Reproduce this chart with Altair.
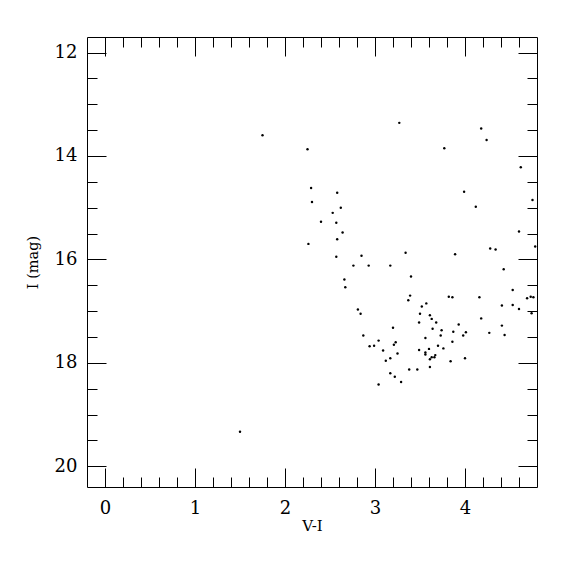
import altair as alt
import pandas as pd

# Colour index V-I and I magnitude of each star
vi = [1.75, 1.50, 2.25, 3.27, 2.29, 2.58, 2.30, 2.62, 2.53, 2.40,
      2.57, 2.64, 2.58, 2.26, 3.34, 2.57, 2.85, 2.76, 2.93, 3.17,
      3.40, 2.66, 2.67, 3.39, 3.37, 2.81, 2.84, 3.49, 3.20, 2.87,
      3.04, 3.23, 2.94, 2.99, 3.21, 3.09, 3.25, 3.49, 3.17, 3.12,
      3.38, 3.47, 3.17, 3.22, 3.29, 3.04, 4.18, 4.24, 3.77, 4.62,
      3.99, 4.12, 4.75, 4.60, 4.78, 4.28, 4.34, 3.89, 4.43, 4.53,
      3.82, 3.86, 4.16, 4.69, 4.73, 4.76, 3.57, 3.52, 4.41, 4.53,
      4.60, 4.74, 3.50, 3.61, 3.63, 3.68, 4.18, 3.93, 4.41, 3.64,
      3.74, 3.87, 4.01, 3.98, 3.73, 4.27, 4.44, 3.56, 3.86, 3.70,
      3.76, 3.60, 3.56, 3.56, 3.67, 3.63, 3.66, 3.61, 3.84, 4.00,
      3.61]
imag = [13.60, 19.33, 13.87, 13.36, 14.62, 14.71, 14.89, 15.00, 15.10, 15.27,
        15.29, 15.48, 15.61, 15.70, 15.87, 15.95, 15.93, 16.12, 16.12, 16.12,
        16.33, 16.39, 16.54, 16.70, 16.79, 16.97, 17.05, 17.22, 17.32, 17.47,
        17.57, 17.60, 17.68, 17.67, 17.65, 17.76, 17.82, 17.75, 17.91, 17.96,
        18.13, 18.13, 18.20, 18.27, 18.37, 18.42, 13.47, 13.69, 13.85, 14.22,
        14.69, 14.98, 14.85, 15.46, 15.75, 15.79, 15.81, 15.90, 16.19, 16.59,
        16.72, 16.73, 16.73, 16.75, 16.72, 16.73, 16.85, 16.91, 16.89, 16.88,
        16.96, 17.04, 17.05, 17.08, 17.15, 17.22, 17.14, 17.26, 17.28, 17.34,
        17.37, 17.40, 17.41, 17.47, 17.47, 17.42, 17.46, 17.52, 17.59, 17.67,
        17.72, 17.73, 17.80, 17.84, 17.85, 17.89, 17.89, 17.93, 17.97, 17.91,
        18.08]

x_major = [0, 1, 2, 3, 4]
x_minor = [0.2, 0.4, 0.6, 0.8, 1.2, 1.4, 1.6, 1.8, 2.2, 2.4, 2.6, 2.8,
           3.2, 3.4, 3.6, 3.8, 4.2, 4.4, 4.6]
y_major = [12, 14, 16, 18, 20]
y_minor = [12.5, 13, 13.5, 14.5, 15, 15.5, 16.5, 17, 17.5, 18.5, 19, 19.5]

df = pd.DataFrame({"vi": vi, "imag": imag})

FONT = "DejaVu Serif"
xs = alt.Scale(domain=[-0.2, 4.8], nice=False, zero=False)
ys = alt.Scale(domain=[11.7, 20.4], reverse=True, nice=False, zero=False)

common = dict(grid=False, domain=False, tickColor="black", tickWidth=1)


def tick_axis(orient, values, size):
    return alt.Axis(orient=orient, values=values, tickSize=size, offset=-size,
                    labels=False, title="", **common)


base = alt.Chart(df)

points = base.mark_circle(size=6, color="black", opacity=1).encode(
    x=alt.X("vi:Q", scale=xs, axis=alt.Axis(
        orient="bottom", values=x_major, tickSize=19, offset=-19,
        labelPadding=12, labelFont=FONT, labelFontSize=18, labelColor="black",
        format="d", labelFlush=False,
        title="V-I", titleFont=FONT, titleFontSize=15, titleFontWeight="normal",
        titleColor="black", titleY=62, titleBaseline="alphabetic", **common)),
    y=alt.Y("imag:Q", scale=ys, axis=alt.Axis(
        orient="left", values=y_major, tickSize=19, offset=-19,
        labelPadding=10, labelFont=FONT, labelFontSize=18, labelColor="black",
        format="d", labelFlush=False,
        title="I (mag)", titleFont=FONT, titleFontSize=14.5, titleFontWeight="normal",
        titleColor="black", titleX=-73, titleBaseline="middle", **common)),
)

minor_bl = base.mark_point(opacity=0).encode(
    x=alt.X("vi:Q", scale=xs, axis=tick_axis("bottom", x_minor, 10)),
    y=alt.Y("imag:Q", scale=ys, axis=tick_axis("left", y_minor, 10)),
)
major_tr = base.mark_point(opacity=0).encode(
    x=alt.X("vi:Q", scale=xs, axis=tick_axis("top", x_major, 19)),
    y=alt.Y("imag:Q", scale=ys, axis=tick_axis("right", y_major, 19)),
)
minor_tr = base.mark_point(opacity=0).encode(
    x=alt.X("vi:Q", scale=xs, axis=tick_axis("top", x_minor, 10)),
    y=alt.Y("imag:Q", scale=ys, axis=tick_axis("right", y_minor, 10)),
)

chart = alt.layer(points, minor_bl, major_tr, minor_tr).resolve_axis(
    x="independent", y="independent"
).properties(
    width=450, height=450,
    autosize=alt.AutoSizeParams(type="none"),
    padding={"left": 79, "top": 29, "right": 30, "bottom": 80},
    background="white",
).configure_view(stroke="black", strokeWidth=1)

chart.save("out.html", embed_options={"renderer": "svg", "actions": False})
